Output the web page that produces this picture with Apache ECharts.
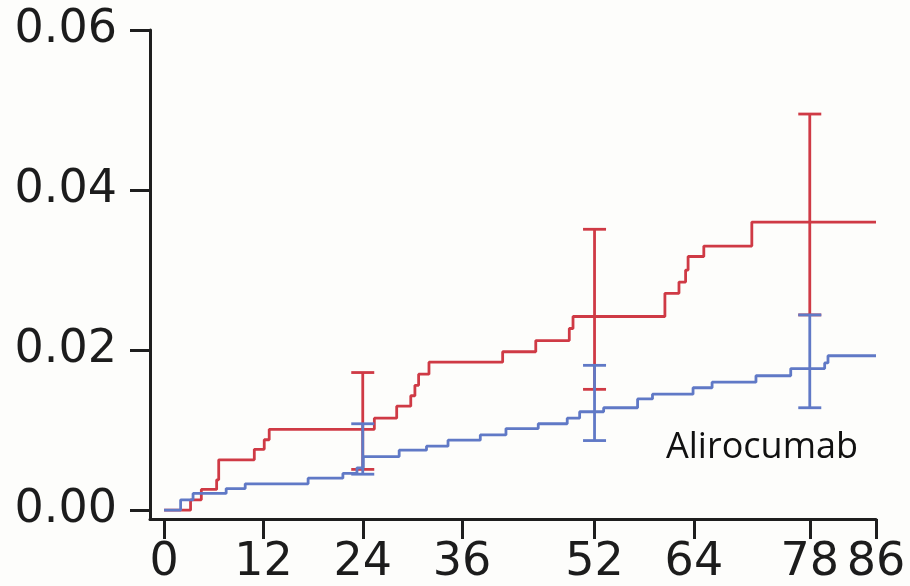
<!DOCTYPE html>
<html>
<head>
<meta charset="utf-8">
<script src="https://cdn.jsdelivr.net/npm/echarts@6/dist/echarts.min.js"></script>
<style>
  html, body { margin: 0; padding: 0; background: #fdfdfb; }
  #chart { width: 910px; height: 586px; }
</style>
</head>
<body>
<div id="chart"></div>
<script>
// Cumulative incidence step curves (weeks vs. proportion)
var xTicks = [0, 12, 24, 36, 52, 64, 78, 86];
var yTicks = [0, 0.02, 0.04, 0.06];

// Control arm: [week, cumulative incidence]
var controlSteps = [
  [0, 0], [3.2, 0.0013], [4.5, 0.0026], [6.35, 0.0038], [6.6, 0.0063],
  [10.9, 0.0076], [12.1, 0.0088], [12.7, 0.0101], [25.4, 0.0115],
  [28.1, 0.0130], [29.8, 0.0143], [30.3, 0.0156], [30.75, 0.0170],
  [32.0, 0.0185], [40.9, 0.0198], [44.9, 0.0212], [48.95, 0.0227],
  [49.4, 0.0242], [60.5, 0.0271], [62.2, 0.0285], [63.0, 0.0300],
  [63.3, 0.0317], [65.2, 0.0330], [71.0, 0.0360], [86, 0.0360]
];

// Alirocumab arm: [week, cumulative incidence]
var alirocumabSteps = [
  [0, 0], [2.0, 0.0013], [3.5, 0.0021], [7.5, 0.0027], [9.8, 0.0033],
  [17.4, 0.0040], [21.6, 0.0046], [23.3, 0.0053], [24.06, 0.0067],
  [28.4, 0.0075], [31.7, 0.0080], [34.3, 0.00875], [38.2, 0.0094],
  [41.3, 0.0102], [45.2, 0.0108], [48.7, 0.0115], [50.2, 0.0123],
  [53.1, 0.0128], [57.2, 0.0139], [59.0, 0.0145], [63.9, 0.0153],
  [66.2, 0.0160], [71.5, 0.0168], [75.7, 0.0177], [79.8, 0.0184],
  [80.2, 0.0193], [86, 0.0193]
];

// Confidence intervals at the assessment weeks
var ciWeeks = [24, 52, 78];
var controlLow = [0.0051, 0.0151, 0.0244];
var controlHigh = [0.0172, 0.0351, 0.0495];
var alirocumabLow = [0.0045, 0.00870, 0.0128];
var alirocumabHigh = [0.0108, 0.0181, 0.0244];

var RED = '#cf3a45';
var BLUE = '#6079c6';
var AXIS = '#1e1e1e';

function ciData(low, high) {
  return ciWeeks.map(function (w, i) { return [w, low[i], high[i]]; });
}

function renderCI(color) {
  return function (params, api) {
    var x = api.value(0);
    var lo = api.coord([x, api.value(1)]);
    var hi = api.coord([x, api.value(2)]);
    var half = 11.5;
    var style = { stroke: color, lineWidth: 2.8, fill: null };
    return {
      type: 'group',
      children: [
        { type: 'line', shape: { x1: lo[0], y1: lo[1], x2: hi[0], y2: hi[1] }, style: style },
        { type: 'line', shape: { x1: hi[0] - half, y1: hi[1], x2: hi[0] + half, y2: hi[1] }, style: style },
        { type: 'line', shape: { x1: lo[0] - half, y1: lo[1], x2: lo[0] + half, y2: lo[1] }, style: style }
      ]
    };
  };
}

var chart = echarts.init(document.getElementById('chart'), null, { renderer: 'canvas' });

var tickFont = {
  fontFamily: 'DejaVu Sans',
  fontSize: 46,
  color: '#1c1c1c'
};

chart.setOption({
  backgroundColor: '#fdfdfb',
  animation: false,
  grid: {
    left: 150, right: 34, top: 30, bottom: 67,
    containLabel: false,
    outerBoundsMode: 'none'
  },
  xAxis: {
    type: 'value',
    min: -1.7,
    max: 86,
    axisLine: { show: true, onZero: false, lineStyle: { color: AXIS, width: 3 } },
    axisTick: { show: true, length: 20, lineStyle: { color: AXIS, width: 3 }, customValues: xTicks },
    axisLabel: Object.assign({ margin: 21, customValues: xTicks }, tickFont),
    splitLine: { show: false }
  },
  yAxis: {
    type: 'value',
    min: -0.0011,
    max: 0.06,
    axisLine: { show: true, onZero: false, lineStyle: { color: AXIS, width: 3 } },
    axisTick: { show: true, length: 20, lineStyle: { color: AXIS, width: 3 }, customValues: yTicks },
    axisLabel: Object.assign({
      margin: 33,
      customValues: yTicks,
      formatter: function (v) { return v.toFixed(2); }
    }, tickFont),
    splitLine: { show: false }
  },
  series: [
    {
      name: 'Control',
      type: 'line',
      step: 'end',
      data: controlSteps,
      showSymbol: false,
      lineStyle: { color: RED, width: 2.8 },
      z: 2
    },
    {
      name: 'Control CI',
      type: 'custom',
      data: ciData(controlLow, controlHigh),
      renderItem: renderCI(RED),
      z: 3
    },
    {
      name: 'Alirocumab',
      type: 'line',
      step: 'end',
      data: alirocumabSteps,
      showSymbol: false,
      lineStyle: { color: BLUE, width: 2.8 },
      z: 4
    },
    {
      name: 'Alirocumab CI',
      type: 'custom',
      data: ciData(alirocumabLow, alirocumabHigh),
      renderItem: renderCI(BLUE),
      z: 5
    }
  ],
  graphic: [
    {
      type: 'text',
      left: 666,
      top: 430,
      style: {
        text: 'Alirocumab',
        font: '36px "Open Sans"',
        fill: '#111111'
      }
    }
  ]
});
</script>
</body>
</html>
